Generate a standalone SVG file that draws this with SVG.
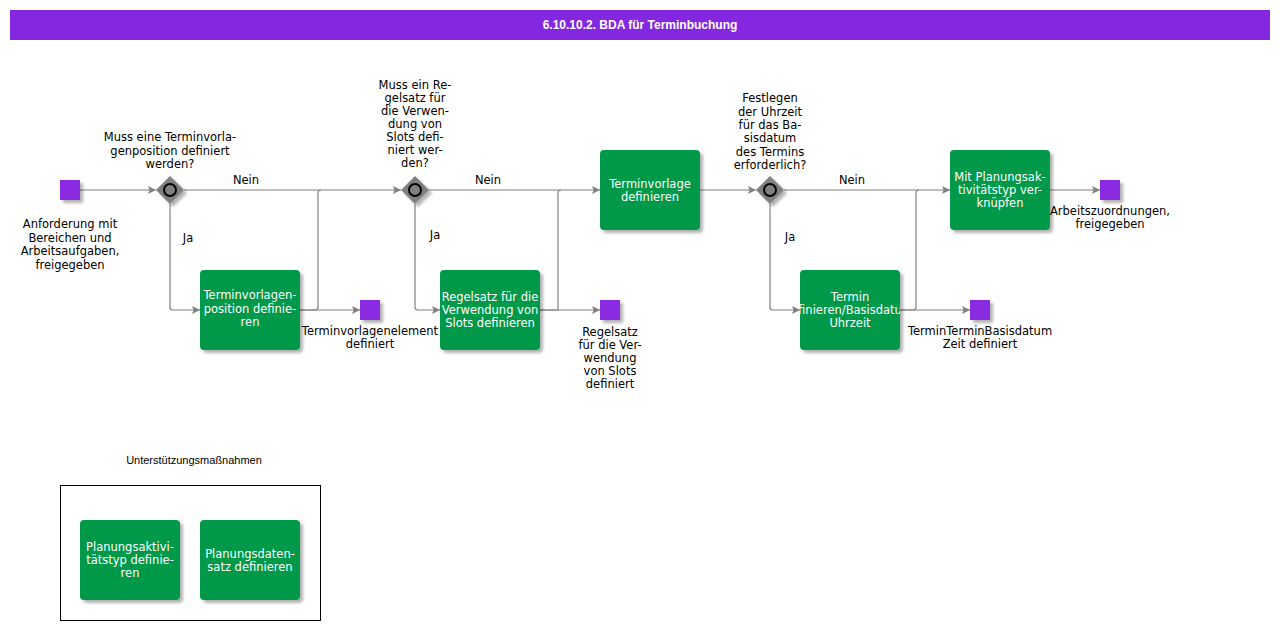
<svg xmlns="http://www.w3.org/2000/svg" width="1280" height="630" viewBox="0 0 1280 630">
<style>
.t{font-family:"DejaVu Sans",Verdana,sans-serif;font-size:11.5px;fill:#000;text-anchor:middle}
.w{font-family:"DejaVu Sans",Verdana,sans-serif;font-size:11.5px;fill:#fff;text-anchor:middle}
.task{fill:#00984A;filter:url(#sh)}
.ev{fill:#8A2BE2;filter:url(#sh)}
.gw{fill:#808080;filter:url(#sh)}
.gc{fill:none;stroke:#000;stroke-width:2}
.c{fill:none;stroke:#808080;stroke-width:1.2;marker-end:url(#ar)}
.cn{fill:none;stroke:#808080;stroke-width:1.2}
</style>
<defs>
<filter id="sh" x="-20%" y="-20%" width="150%" height="150%">
<feGaussianBlur in="SourceAlpha" stdDeviation="1.5"/>
<feOffset dx="3" dy="3" result="b"/>
<feComponentTransfer><feFuncA type="linear" slope="0.3"/></feComponentTransfer>
<feMerge><feMergeNode/><feMergeNode in="SourceGraphic"/></feMerge>
</filter>
<marker id="ar" viewBox="0 0 10 10" refX="10" refY="5" markerWidth="10" markerHeight="8" markerUnits="userSpaceOnUse" orient="auto">
<path d="M0,0 L10,5 L0,10 L2,5 z" fill="#808080"/>
</marker>
<clipPath id="cp5"><rect x="800" y="270" width="100" height="80"/></clipPath>
</defs>
<rect x="0" y="0" width="1280" height="630" fill="#fff"/>
<g id="title">
<rect x="10" y="10" width="1260" height="30" fill="#8427E0"/>
<text x="640" y="29" font-family="'Liberation Sans Narrow','Liberation Sans',sans-serif" font-weight="bold" font-size="12" fill="#fff" text-anchor="middle">6.10.10.2. BDA für Terminbuchung</text>
</g>
<g id="connectors">
<path class="c" d="M80,190 H156"/>
<path class="c" d="M184,190 H401"/>
<path class="c" d="M170,204 V307 Q170,310 173,310 H200"/>
<path class="c" d="M300,310 H360"/>
<path class="cn" d="M300,310 H315 Q318,310 318,307 V193 Q318,190 321,190"/>
<path class="c" d="M429,190 H600"/>
<path class="c" d="M415,204 V307 Q415,310 418,310 H440"/>
<path class="c" d="M540,310 H600"/>
<path class="cn" d="M540,310 H558 V193 Q558,190 561,190"/>
<path class="c" d="M700,190 H756"/>
<path class="c" d="M784,190 H950"/>
<path class="c" d="M770,204 V307 Q770,310 773,310 H800"/>
<path class="c" d="M900,310 H970"/>
<path class="cn" d="M900,310 H913 Q916,310 916,307 V193 Q916,190 919,190"/>
<path class="c" d="M1050,190 H1100"/>
<text class="t" x="246" y="184">Nein</text>
<text class="t" x="188" y="242">Ja</text>
<text class="t" x="488" y="184">Nein</text>
<text class="t" x="435" y="239">Ja</text>
<text class="t" x="852" y="184">Nein</text>
<text class="t" x="790" y="241">Ja</text>
</g>
<g id="start">
<rect class="ev" x="60" y="180" width="20" height="20"/>
<text class="t" x="70" y="228">Anforderung mit</text>
<text class="t" x="70" y="241.5">Bereichen und</text>
<text class="t" x="70" y="255">Arbeitsaufgaben,</text>
<text class="t" x="70" y="268.5">freigegeben</text>
</g>
<g id="gw1">
<polygon class="gw" points="170,176 184,190 170,204 156,190"/>
<circle class="gc" cx="170" cy="190" r="6"/>
<text class="t" x="170" y="141">Muss eine Terminvorla-</text>
<text class="t" x="170" y="155">genposition definiert</text>
<text class="t" x="170" y="168">werden?</text>
</g>
<g id="task1">
<rect class="task" x="200" y="270" width="100" height="80" rx="4"/>
<text class="w" x="250" y="299">Terminvorlagen-</text>
<text class="w" x="250" y="312.5">position definie-</text>
<text class="w" x="250" y="326">ren</text>
</g>
<g id="ev1">
<rect class="ev" x="360" y="300" width="20" height="20"/>
<text class="t" x="370" y="335">Terminvorlagenelement</text>
<text class="t" x="370" y="348">definiert</text>
</g>
<g id="gw2">
<polygon class="gw" points="415,176 429,190 415,204 401,190"/>
<circle class="gc" cx="415" cy="190" r="6"/>
<text class="t" x="415" y="89">Muss ein Re-</text>
<text class="t" x="415" y="102">gelsatz für</text>
<text class="t" x="415" y="115">die Verwen-</text>
<text class="t" x="415" y="128">dung von</text>
<text class="t" x="415" y="141">Slots defi-</text>
<text class="t" x="415" y="154">niert wer-</text>
<text class="t" x="415" y="167">den?</text>
</g>
<g id="task2">
<rect class="task" x="440" y="270" width="100" height="80" rx="4"/>
<text class="w" x="490" y="301">Regelsatz für die</text>
<text class="w" x="490" y="314">Verwendung von</text>
<text class="w" x="490" y="327">Slots definieren</text>
</g>
<g id="ev2">
<rect class="ev" x="600" y="300" width="20" height="20"/>
<text class="t" x="610" y="336">Regelsatz</text>
<text class="t" x="610" y="349">für die Ver-</text>
<text class="t" x="610" y="362">wendung</text>
<text class="t" x="610" y="375">von Slots</text>
<text class="t" x="610" y="388">definiert</text>
</g>
<g id="task3">
<rect class="task" x="600" y="150" width="100" height="80" rx="4"/>
<text class="w" x="650" y="188">Terminvorlage</text>
<text class="w" x="650" y="201">definieren</text>
</g>
<g id="gw3">
<polygon class="gw" points="770,176 784,190 770,204 756,190"/>
<circle class="gc" cx="770" cy="190" r="6"/>
<text class="t" x="770" y="102">Festlegen</text>
<text class="t" x="770" y="115.5">der Uhrzeit</text>
<text class="t" x="770" y="129">für das Ba-</text>
<text class="t" x="770" y="142">sisdatum</text>
<text class="t" x="770" y="155.5">des Termins</text>
<text class="t" x="770" y="169">erforderlich?</text>
</g>
<g id="task5">
<rect class="task" x="800" y="270" width="100" height="80" rx="4"/>
<g clip-path="url(#cp5)">
<text class="w" x="850" y="301">Termin</text>
<text class="w" x="850" y="314">finieren/Basisdatu</text>
<text class="w" x="850" y="327">Uhrzeit</text>
</g>
</g>
<g id="ev3">
<rect class="ev" x="970" y="300" width="20" height="20"/>
<text class="t" x="980" y="335">TerminTerminBasisdatum</text>
<text class="t" x="980" y="348">Zeit definiert</text>
</g>
<g id="task4">
<rect class="task" x="950" y="150" width="100" height="80" rx="4"/>
<text class="w" x="1000" y="181">Mit Planungsak-</text>
<text class="w" x="1000" y="194">tivitätstyp ver-</text>
<text class="w" x="1000" y="207">knüpfen</text>
</g>
<g id="end">
<rect class="ev" x="1100" y="180" width="20" height="20"/>
<text class="t" x="1110" y="215">Arbeitszuordnungen,</text>
<text class="t" x="1110" y="228">freigegeben</text>
</g>
<g id="support">
<text x="194" y="464" font-family="'Liberation Sans',Arial,sans-serif" font-size="11" text-anchor="middle" fill="#000">Unterstützungsmaßnahmen</text>
<rect x="60.5" y="485.5" width="260" height="135" fill="none" stroke="#000" stroke-width="1"/>
</g>
<g id="task6">
<rect class="task" x="80" y="520" width="100" height="80" rx="4"/>
<text class="w" x="130" y="551">Planungsaktivi-</text>
<text class="w" x="130" y="564">tätstyp definie-</text>
<text class="w" x="130" y="577">ren</text>
</g>
<g id="task7">
<rect class="task" x="200" y="520" width="100" height="80" rx="4"/>
<text class="w" x="250" y="558">Planungsdaten-</text>
<text class="w" x="250" y="571">satz definieren</text>
</g>
</svg>
